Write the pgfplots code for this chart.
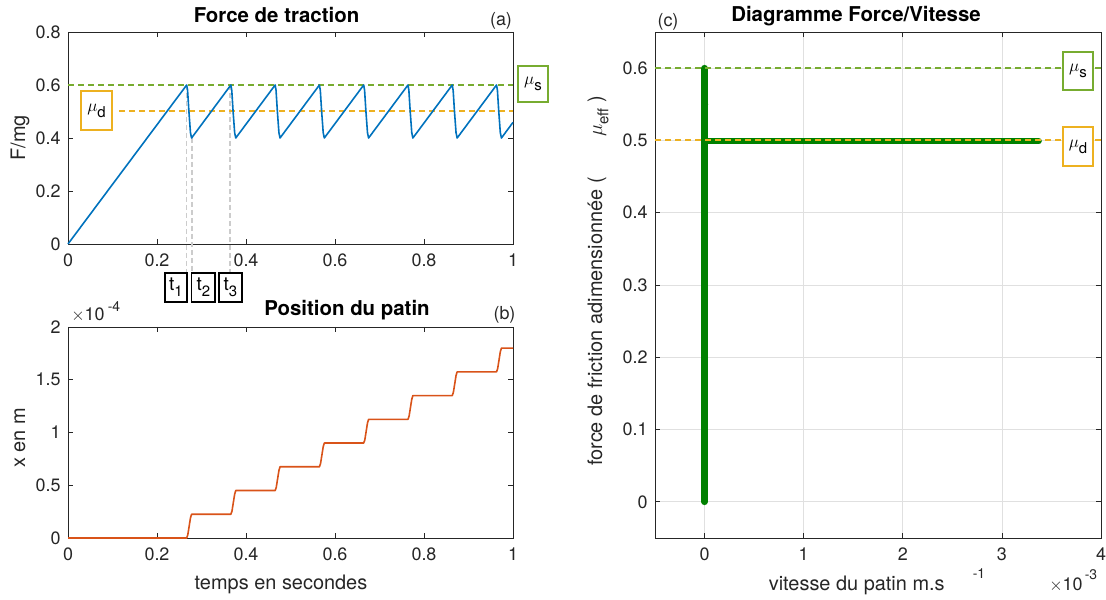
\documentclass[border=0pt]{standalone}
\usepackage{pgfplots}
\pgfplotsset{compat=1.18}
\usepackage{fontspec}
\setmainfont{TeX Gyre Heros}
\definecolor{mblue}{rgb}{0,0.447,0.741}
\definecolor{mred}{rgb}{0.85,0.325,0.098}
\definecolor{myel}{rgb}{0.929,0.694,0.125}
\definecolor{mgreen}{rgb}{0.466,0.674,0.188}
\definecolor{dgreen}{rgb}{0,0.5,0}
\definecolor{axcol}{rgb}{0.15,0.15,0.15}
\definecolor{gridcol}{rgb}{0.88,0.88,0.88}
\definecolor{tgray}{rgb}{0.8,0.8,0.8}
\newcommand\fs[1]{\fontsize{#1}{#1}\selectfont}
\newcommand\sub[1]{\raisebox{-0.6ex}{\fs{15}#1}}
\pgfplotsset{
  mystyle/.style={
    scale only axis, anchor=south west, clip=false,
    axis line style={draw=axcol,line width=0.8bp},
    every tick/.style={draw=axcol,line width=0.8bp},
    major tick length=5bp,
    tick label style={font=\fs{18}, text=axcol},
    xticklabel style={yshift=-6bp},
    yticklabel style={xshift=-4bp},
    /pgf/number format/assume math mode=true,
    /pgf/number format/fixed,
    scaled ticks=false,
  },
  mudash/.style={line width=2bp, dash pattern=on 6bp off 4bp},
}
\begin{document}
\begin{tikzpicture}
\useasboundingbox (0,0) rectangle (1106bp,600bp);

% ---------------- (a) Force de traction ----------------
\begin{axis}[mystyle, at={(68bp,356bp)}, width=445bp, height=212bp,
  xmin=0, xmax=1, ymin=0, ymax=0.8,
  xtick={0,0.2,0.4,0.6,0.8,1}, ytick={0,0.2,0.4,0.6,0.8}]
\addplot[tgray, line width=1.4bp, dash pattern=on 5bp off 3bp] coordinates {(0.2667,0.6) (0.2667,-0.106)};
\addplot[tgray, line width=1.4bp, dash pattern=on 5bp off 3bp] coordinates {(0.2790,0.4) (0.2790,-0.106)};
\addplot[tgray, line width=1.4bp, dash pattern=on 5bp off 3bp] coordinates {(0.3640,0.6) (0.3640,-0.106)};
\addplot[mgreen, mudash] coordinates {(0,0.6) (1,0.6)};
\addplot[myel, mudash] coordinates {(0.115,0.5) (1,0.5)};
\addplot[mblue, line width=1.6bp, line join=round] coordinates {
(0,0) (0.2667,0.6) (0.2687,0.58) (0.2717,0.5) (0.2752,0.42) (0.2777,0.4)
(0.366,0.6) (0.368,0.58) (0.371,0.5) (0.3745,0.42) (0.377,0.4)
(0.4655,0.6) (0.4675,0.58) (0.4705,0.5) (0.474,0.42) (0.4765,0.4)
(0.565,0.6) (0.567,0.58) (0.570,0.5) (0.5735,0.42) (0.576,0.4)
(0.6645,0.6) (0.6665,0.58) (0.6695,0.5) (0.673,0.42) (0.6755,0.4)
(0.764,0.6) (0.766,0.58) (0.769,0.5) (0.7725,0.42) (0.775,0.4)
(0.8635,0.6) (0.8655,0.58) (0.8685,0.5) (0.872,0.42) (0.8745,0.4)
(0.963,0.6) (0.965,0.58) (0.968,0.5) (0.9715,0.42) (0.974,0.4)
(1,0.459)};
\end{axis}

% ---------------- (b) Position du patin ----------------
\begin{axis}[mystyle, at={(68bp,62bp)}, width=445bp, height=211bp,
  xmin=0, xmax=1, ymin=0, ymax=2,
  xtick={0,0.2,0.4,0.6,0.8,1}, ytick={0,0.5,1,1.5,2}]
\addplot[mred, line width=1.6bp, line join=round] coordinates {
(0,0) (0.2667,0)
(0.2692,0.03) (0.2722,0.11) (0.2752,0.19) (0.2777,0.225) (0.366,0.225)
(0.3685,0.255) (0.3715,0.335) (0.3745,0.415) (0.377,0.45) (0.4655,0.45)
(0.468,0.48) (0.471,0.56) (0.474,0.64) (0.4765,0.675) (0.565,0.675)
(0.5675,0.705) (0.5705,0.785) (0.5735,0.865) (0.576,0.9) (0.6645,0.9)
(0.667,0.93) (0.67,1.01) (0.673,1.09) (0.6755,1.125) (0.764,1.125)
(0.7665,1.155) (0.7695,1.235) (0.7725,1.315) (0.775,1.35) (0.8635,1.35)
(0.866,1.38) (0.869,1.46) (0.872,1.54) (0.8745,1.575) (0.963,1.575)
(0.9655,1.605) (0.9685,1.685) (0.9715,1.765) (0.974,1.8) (1,1.8)};
\end{axis}

% ---------------- (c) Diagramme Force/Vitesse ----------------
\begin{axis}[mystyle, at={(655bp,62bp)}, width=446bp, height=506bp,
  xmin=-0.5, xmax=4, ymin=-0.05, ymax=0.65,
  xtick={0,1,2,3,4}, ytick={0,0.1,0.2,0.3,0.4,0.5,0.6},
  grid=major, grid style={draw=gridcol, line width=0.8bp}]
\addplot[dgreen, line width=6.5bp, line cap=round] coordinates {(0,0) (0,0.6)};
\addplot[dgreen, line width=6.5bp, line cap=round] coordinates {(0,0.499) (3.37,0.499)};
\addplot[dgreen, line width=2bp, line cap=round] coordinates {(0.015,0.535) (0.025,0.55) (0.015,0.56)};
\addplot[mgreen, mudash] coordinates {(-0.5,0.6) (4,0.6)};
\addplot[myel, mudash] coordinates {(-0.5,0.5) (4,0.5)};
\end{axis}

% ---------------- annotations ----------------
\tikzset{lbl/.style={font=\fs{20}, text=axcol, inner sep=0pt},
         ttl/.style={font=\fs{20.5}\bfseries, text=black, inner sep=0pt},
         sml/.style={font=\fs{18}, text=axcol, inner sep=0pt},
         mubox/.style={draw=#1, line width=1.6bp, fill=white, inner sep=0pt, minimum width=30bp, minimum height=37bp, font=\fs{19}, text=black},
         tbox/.style={draw=black, line width=1.5bp, fill=white, inner sep=0pt, minimum width=22bp, minimum height=29bp, font=\fs{19}, text=black}}
% titles
\node[ttl] at (276.5bp,585bp) {Force de traction};
\node[ttl] at (347bp,290bp) {Position du patin};
\node[ttl] at (856bp,584bp) {Diagramme Force/Vitesse};
\node[sml] at (501bp,579.5bp) {(a)};
\node[sml] at (504.5bp,285bp) {(b)};
\node[sml] at (668bp,578bp) {(c)};
% axis labels
\node[lbl, rotate=90] at (20bp,462bp) {F/mg};
\node[lbl, rotate=90] at (20bp,162bp) {x en m};
\node[lbl] at (281bp,16bp) {temps en secondes};
\node[lbl] at (856.7bp,15bp) {vitesse du patin m.s};
\node[font=\fs{14}, text=axcol, inner sep=0pt] at (979bp,26bp) {-1};
\node[sml] at (1066bp,15bp) {$\times$10};
\node[font=\fs{14}, text=axcol, inner sep=0pt] at (1091bp,25bp) {-3};
\node[sml] at (88bp,285bp) {$\times$10};
\node[font=\fs{14}, text=axcol, inner sep=0pt] at (114bp,293bp) {-4};
\node[lbl, rotate=90, anchor=east] at (597bp,423bp) {force de friction adimensionnée (};
\node[lbl, rotate=90, anchor=west] at (598bp,463bp) {$\mu$\sub{eff} )};
% mu boxes
\node[mubox=mgreen, minimum height=36bp] at (533bp,516bp) {$\mu$\sub{s}};
\node[mubox=myel, minimum width=31bp, minimum height=39bp] at (96.5bp,489.5bp) {$\mu$\sub{d}};
\node[mubox=mgreen, minimum height=38bp] at (1078bp,529bp) {$\mu$\sub{s}};
\node[mubox=myel, minimum height=39bp] at (1078bp,453.5bp) {$\mu$\sub{d}};
% t boxes
\node[tbox] at (176bp,312.5bp) {t\sub{1}};
\node[tbox, minimum width=23.5bp] at (203.3bp,312.5bp) {t\sub{2}};
\node[tbox, minimum width=23bp] at (230.5bp,312.5bp) {t\sub{3}};
\end{tikzpicture}
\end{document}
